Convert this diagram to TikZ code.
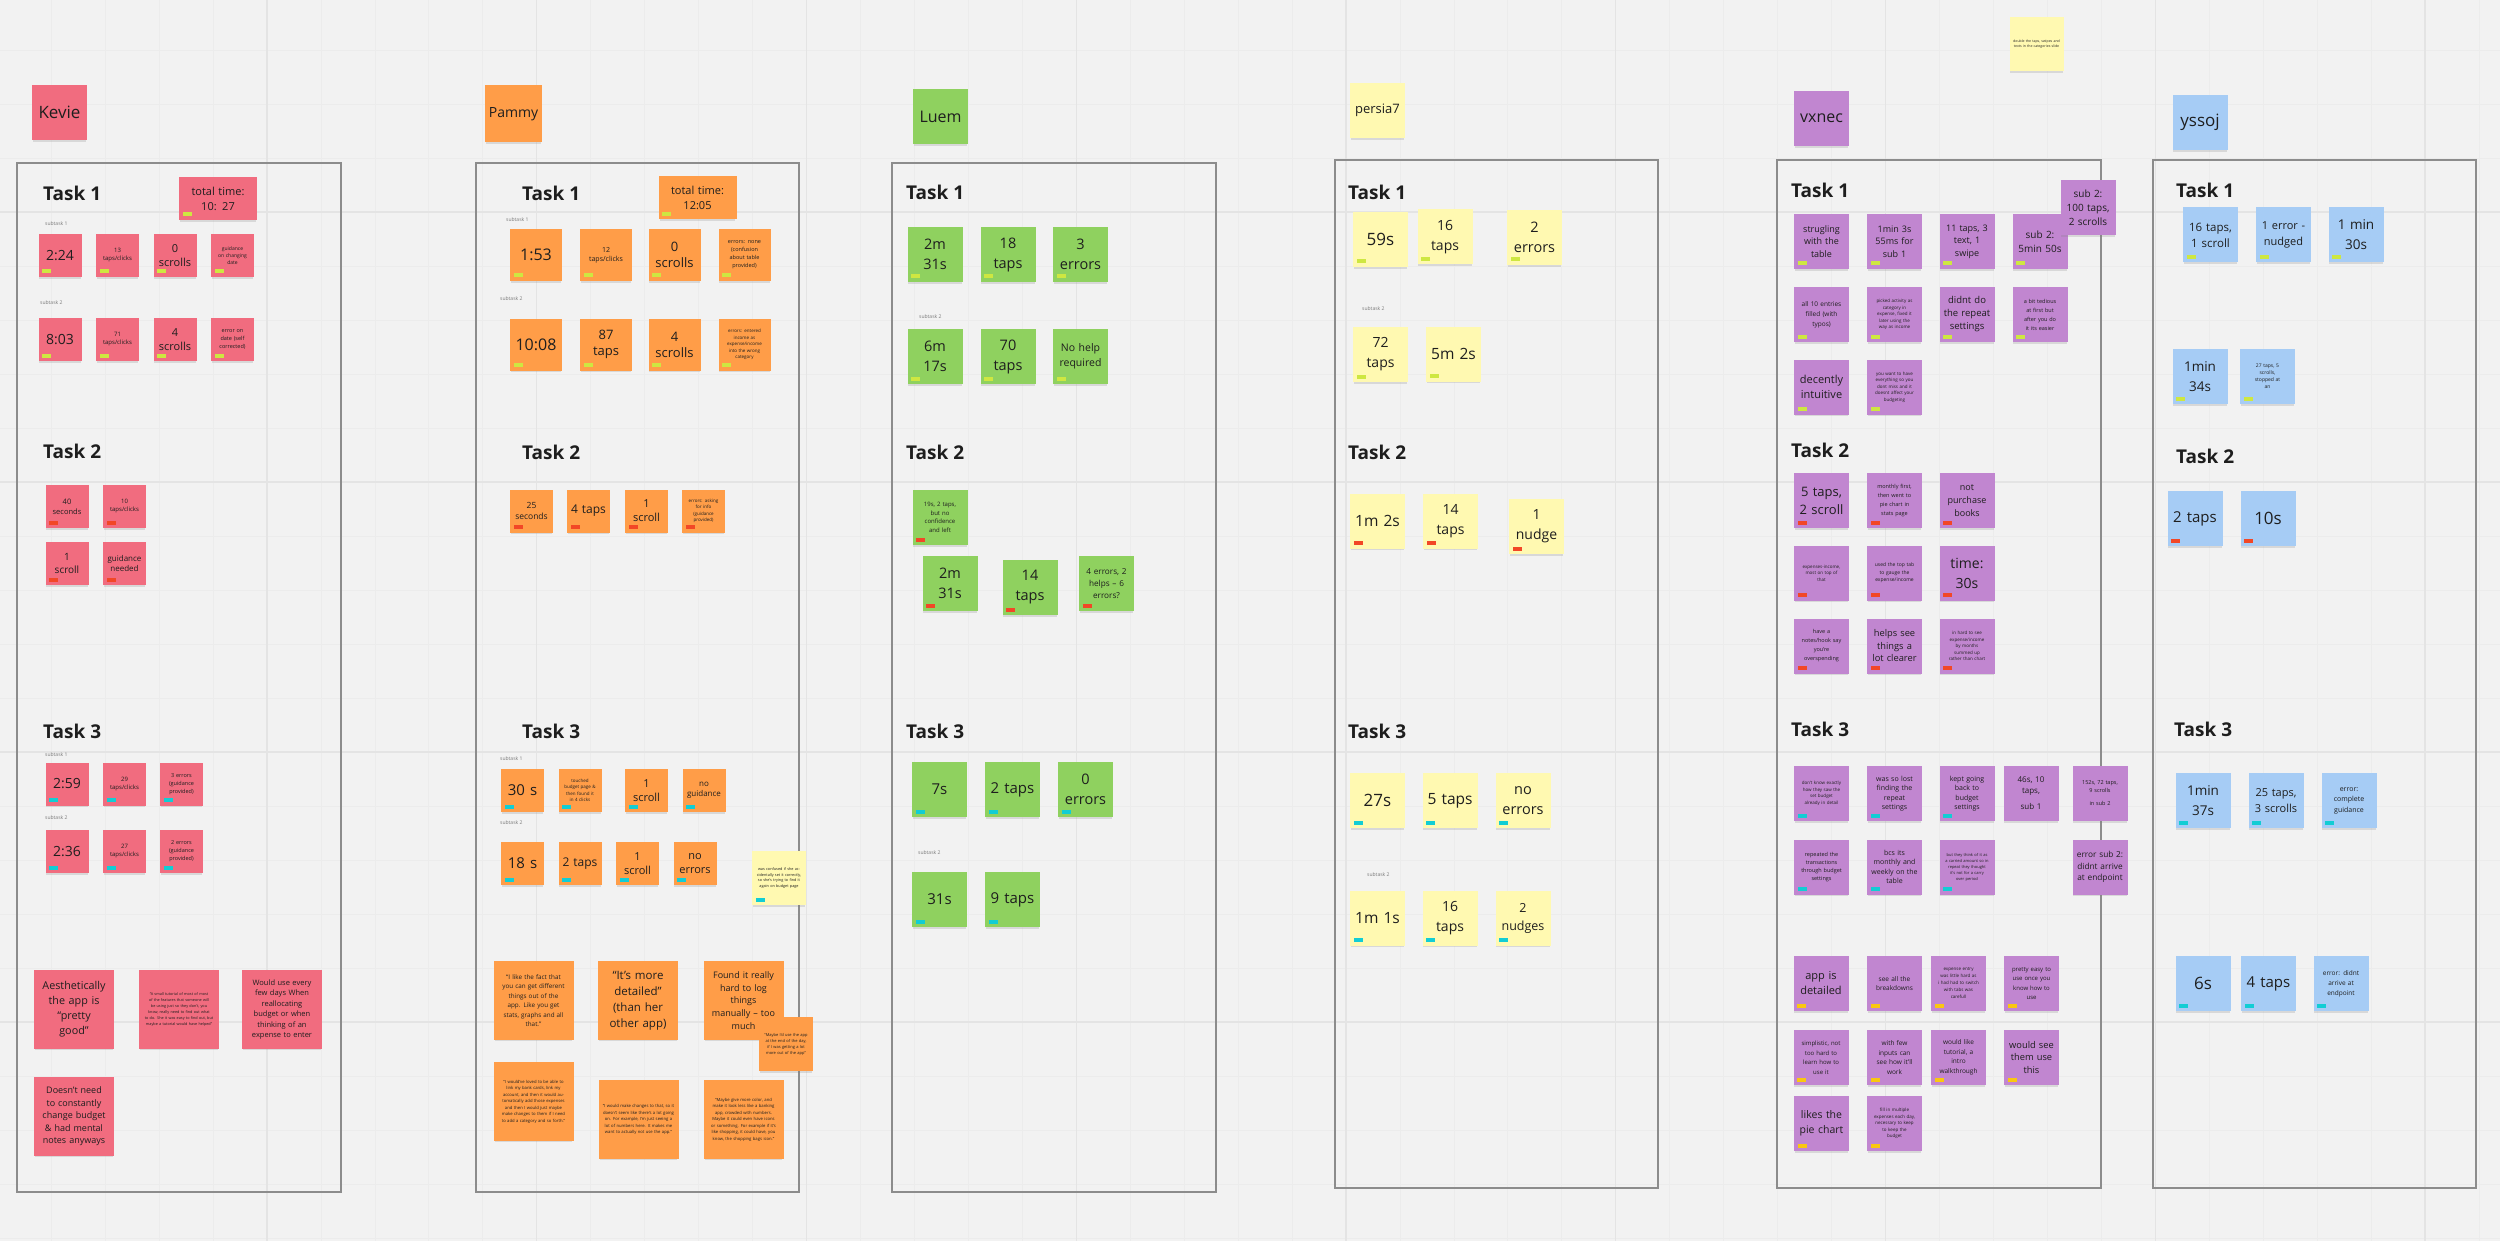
\documentclass[tikz,border=0pt]{standalone}
\usepackage{fontspec}
\setmainfont{Open Sans}
\usepackage{tikz}
\usetikzlibrary{shadows}
\definecolor{bggray}{RGB}{242,242,242}
\definecolor{gridmin}{RGB}{236,236,236}
\definecolor{gridmaj}{RGB}{228,228,228}
\definecolor{framegray}{RGB}{140,140,140}
\definecolor{ink}{RGB}{30,30,30}
\definecolor{subgray}{RGB}{120,120,120}
\definecolor{kvred}{RGB}{241,108,127}
\definecolor{pmorange}{RGB}{255,157,72}
\definecolor{lmgreen}{RGB}{143,209,95}
\definecolor{psyellow}{RGB}{255,249,177}
\definecolor{vxpurple}{RGB}{193,134,208}
\definecolor{ysblue}{RGB}{166,204,245}
\definecolor{tglime}{RGB}{206,231,65}
\definecolor{tgred}{RGB}{242,71,38}
\definecolor{tgcyan}{RGB}{18,205,212}
\definecolor{tggold}{RGB}{250,199,16}
\newcommand\fsz[2]{\fontsize{#1}{#2}\selectfont}
\tikzset{
  frm/.style={draw=framegray, line width=1.6pt},
  task/.style={anchor=west, inner sep=0pt, font=\fsz{19}{22}\bfseries, text=ink},
  sublbl/.style={anchor=west, inner sep=0pt, font=\fsz{5}{6}, text=subgray},
  note/.style={rectangle, inner sep=0pt, align=center, text=ink,
    drop shadow={shadow xshift=0pt, shadow yshift=-2.5pt, shadow scale=0.97, opacity=0.22}},
  n43/.style={note, minimum width=43pt, minimum height=43pt, text width=37pt},
  n52/.style={note, minimum width=52pt, minimum height=52pt, text width=46pt},
  n55/.style={note, minimum width=55pt, minimum height=55pt, text width=49pt},
  n80/.style={note, minimum width=80pt, minimum height=79pt, text width=72pt},
  ntot/.style={note, minimum width=78pt, minimum height=43pt, text width=70pt},
  tg/.style={path picture={\fill[#1] ([xshift=3.5pt,yshift=3.5pt]path picture bounding box.south west) rectangle ++(9pt,4pt);}}
}

\begin{document}
\begin{tikzpicture}[x=1pt, y=-1pt]
  % board and grid
  \useasboundingbox (0,0) rectangle (2500,1241);
  \fill[bggray] (0,0) rectangle (2500,1241);
  \foreach \i in {0,...,47}{
    \pgfmathsetmacro\gx{-2.75+53.95*\i}
    \draw[gridmin, line width=0.8pt] (\gx,0) -- (\gx,1241);
  }
  \foreach \j in {0,...,23}{
    \pgfmathsetmacro\gy{-4+54*\j}
    \draw[gridmin, line width=0.8pt] (0,\gy) -- (2500,\gy);
  }
  \foreach \i in {0,...,9}{
    \pgfmathsetmacro\gx{-2.75+269.75*\i}
    \draw[gridmaj, line width=1.2pt] (\gx,0) -- (\gx,1241);
  }
  \foreach \gy in {212,482,752,1022}
    \draw[gridmaj, line width=1.2pt] (0,\gy) -- (2500,\gy);

  % ---------------- Kevie ----------------
  \node[n55, fill=kvred, font=\fsz{17}{20}] (kvname) at (59.5,112.5) {Kevie};
  \draw[frm] (17,163) rectangle (341,1192);
  \node[task] (kvT1) at (43,193) {Task 1};
  \node[ntot, fill=kvred, tg=tglime, font=\fsz{11}{15}] (kvtot) at (218,198.5) {total time:\\10: 27};
  \node[sublbl] (kvs11) at (45,224) {subtask 1};
  \node[n43, fill=kvred, tg=tglime, font=\fsz{14}{16}] (kva1) at (60,255.5) {2:24};
  \node[n43, fill=kvred, tg=tglime, font=\fsz{6}{8}] (kva2) at (117.5,255.5) {13\\taps/clicks};
  \node[n43, fill=kvred, tg=tglime, font=\fsz{11}{14}] (kva3) at (175,255.5) {0\\scrolls};
  \node[n43, fill=kvred, tg=tglime, font=\fsz{5}{7}] (kva4) at (232.5,255.5) {guidance\\on changing\\date};
  \node[sublbl] (kvs12) at (40,303) {subtask 2};
  \node[n43, fill=kvred, tg=tglime, font=\fsz{14}{16}] (kvb1) at (60,339.5) {8:03};
  \node[n43, fill=kvred, tg=tglime, font=\fsz{6}{8}] (kvb2) at (117.5,339.5) {71\\taps/clicks};
  \node[n43, fill=kvred, tg=tglime, font=\fsz{11}{14}] (kvb3) at (175,339.5) {4\\scrolls};
  \node[n43, fill=kvred, tg=tglime, font=\fsz{5.5}{8}] (kvb4) at (232.5,339.5) {error on\\date (self\\corrected)};
  \node[task] (kvT2) at (43,451) {Task 2};
  \node[n43, fill=kvred, tg=tgred, font=\fsz{7.5}{10}] (kvc1) at (67,506.5) {40\\seconds};
  \node[n43, fill=kvred, tg=tgred, font=\fsz{6}{8}] (kvc2) at (124.5,506.5) {10\\taps/clicks};
  \node[n43, fill=kvred, tg=tgred, font=\fsz{10}{13}] (kvc3) at (67,563.5) {1\\scroll};
  \node[n43, fill=kvred, tg=tgred, font=\fsz{8}{10}] (kvc4) at (124.5,563.5) {guidance\\needed};
  \node[task] (kvT3) at (43,731) {Task 3};
  \node[sublbl] (kvs31) at (45,755) {subtask 1};
  \node[n43, fill=kvred, tg=tgcyan, font=\fsz{14}{16}] (kvd1) at (67,784) {2:59};
  \node[n43, fill=kvred, tg=tgcyan, font=\fsz{6}{8}] (kvd2) at (124.5,784) {29\\taps/clicks};
  \node[n43, fill=kvred, tg=tgcyan, font=\fsz{5.5}{8}] (kvd3) at (181.5,784) {3 errors\\(guidance\\provided)};
  \node[sublbl] (kvs32) at (45,818) {subtask 2};
  \node[n43, fill=kvred, tg=tgcyan, font=\fsz{14}{16}] (kve1) at (67,851.5) {2:36};
  \node[n43, fill=kvred, tg=tgcyan, font=\fsz{6}{8}] (kve2) at (124.5,851.5) {27\\taps/clicks};
  \node[n43, fill=kvred, tg=tgcyan, font=\fsz{5.5}{8}] (kve3) at (181.5,851.5) {2 errors\\(guidance\\provided)};
  \node[n80, fill=kvred, font=\fsz{10.8}{15}] (kvq1) at (74,1009.5) {Aesthetically\\the app is\\“pretty\\good”};
  \node[n80, fill=kvred, font=\fsz{3.8}{6}] (kvq2) at (179,1009.5) {“A small tutorial of most of most of the features that someone will be using just so they don't, you know, really need to find out what to do. She it was easy to find out, but maybe a tutorial would have helped”};
  \node[n80, fill=kvred, font=\fsz{7.5}{10.5}] (kvq3) at (282,1009.5) {Would use every\\few days When\\reallocating\\budget or when\\thinking of an\\expense to enter};
  \node[n80, fill=kvred, font=\fsz{9}{12.5}] (kvq4) at (74,1116.5) {Doesn't need\\to constantly\\change budget\\\& had mental\\notes anyways};

  % ---------------- Pammy ----------------
  \node[note, minimum width=57pt, minimum height=57pt, fill=pmorange, font=\fsz{14}{17}] (pmname) at (513.5,114) {Pammy};
  \draw[frm] (476,163) rectangle (799,1192);
  \node[task] (pmT1) at (522,193) {Task 1};
  \node[ntot, fill=pmorange, tg=tglime, font=\fsz{11}{15}] (pmtot) at (697.5,198) {total time:\\12:05};
  \node[sublbl] (pms11) at (506,220) {subtask 1};
  \node[n52, fill=pmorange, tg=tglime, font=\fsz{16}{18}] (pma1) at (536,255) {1:53};
  \node[n52, fill=pmorange, tg=tglime, font=\fsz{7}{9}] (pma2) at (606,255) {12\\taps/clicks};
  \node[n52, fill=pmorange, tg=tglime, font=\fsz{13}{16}] (pma3) at (674.5,255) {0\\scrolls};
  \node[n52, fill=pmorange, tg=tglime, font=\fsz{5.5}{8}] (pma4) at (744.5,255) {errors: none\\(confusion\\about table\\provided)};
  \node[sublbl] (pms12) at (500,299) {subtask 2};
  \node[n52, fill=pmorange, tg=tglime, font=\fsz{16}{18}] (pmb1) at (536,344.5) {10:08};
  \node[n52, fill=pmorange, tg=tglime, font=\fsz{13}{16}] (pmb2) at (606,344.5) {87\\taps};
  \node[n52, fill=pmorange, tg=tglime, font=\fsz{13}{16}] (pmb3) at (674.5,344.5) {4\\scrolls};
  \node[n52, fill=pmorange, tg=tglime, font=\fsz{4.5}{6.5}] (pmb4) at (744.5,344.5) {errors: entered\\income as\\expense/income\\into the wrong\\category};
  \node[task] (pmT2) at (522,452) {Task 2};
  \node[n43, fill=pmorange, tg=tgred, font=\fsz{8.5}{11}] (pmc1) at (531.5,511) {25\\seconds};
  \node[n43, fill=pmorange, tg=tgred, font=\fsz{12}{14}] (pmc2) at (588.5,511) {4 taps};
  \node[n43, fill=pmorange, tg=tgred, font=\fsz{11}{14}] (pmc3) at (646.5,511) {1\\scroll};
  \node[n43, fill=pmorange, tg=tgred, font=\fsz{4.5}{6.5}] (pmc4) at (703.5,511) {errors: asking\\for info\\(guidance\\provided)};
  \node[task] (pmT3) at (522,731) {Task 3};
  \node[sublbl] (pms31) at (500,759) {subtask 1};
  \node[n43, fill=pmorange, tg=tgcyan, font=\fsz{15}{17}] (pmd1) at (522.5,790.5) {30 s};
  \node[n43, fill=pmorange, tg=tgcyan, font=\fsz{4.5}{6.5}] (pmd2) at (580,790.5) {touched\\budget page \&\\then found it\\in 4 clicks};
  \node[n43, fill=pmorange, tg=tgcyan, font=\fsz{11}{14}] (pmd3) at (646.5,790.5) {1\\scroll};
  \node[n43, fill=pmorange, tg=tgcyan, font=\fsz{8}{10}] (pmd4) at (704,790.5) {no\\guidance};
  \node[sublbl] (pms32) at (500,823) {subtask 2};
  \node[n43, fill=pmorange, tg=tgcyan, font=\fsz{15}{17}] (pme1) at (522.5,863.5) {18 s};
  \node[n43, fill=pmorange, tg=tgcyan, font=\fsz{12}{14}] (pme2) at (580,863.5) {2 taps};
  \node[n43, fill=pmorange, tg=tgcyan, font=\fsz{11}{14}] (pme3) at (637.5,863.5) {1\\scroll};
  \node[n43, fill=pmorange, tg=tgcyan, font=\fsz{11}{14}] (pme4) at (695,863.5) {no\\errors};
  \node[note, minimum width=54pt, minimum height=54pt, text width=48pt, fill=psyellow, tg=tgcyan, font=\fsz{3.8}{5.5}] (pmyel) at (779,878) {was confused if she accidentally set it correctly, so she's trying to find it again on budget page};
  \node[n80, fill=pmorange, font=\fsz{6.3}{9.5}] (pmq1) at (533.5,1000.5) {“I like the fact that\\you can get different\\things out of the\\app. Like you get\\stats, graphs and all\\that.”};
  \node[n80, fill=pmorange, font=\fsz{11.5}{16}] (pmq2) at (638,1000.5) {“It's more\\detailed”\\(than her\\other app)};
  \node[n80, fill=pmorange, font=\fsz{9}{12.7}] (pmq3) at (743.5,1000.5) {Found it really\\hard to log\\things\\manually -- too\\much};
  \node[note, minimum width=54pt, minimum height=54pt, text width=48pt, fill=pmorange, font=\fsz{4}{6}] (pmq4) at (786,1044) {“Maybe I'd use the app at the end of the day, if I was getting a lot more out of the app”};
  \node[n80, fill=pmorange, font=\fsz{4.2}{6.5}] (pmq5) at (533.5,1101.5) {“I would've loved to be able to link my bank cards, link my account, and then it would automatically add those expenses and then I would just maybe make changes to them if I need to add a category and so forth.”};
  \node[n80, fill=pmorange, font=\fsz{4.2}{6.5}] (pmq6) at (638.5,1119.5) {“I would make changes to that, so it doesn't seem like there's a lot going on. For example, I'm just seeing a lot of numbers here. It makes me want to actually not use the app.”};
  \node[n80, fill=pmorange, font=\fsz{4.2}{6.5}] (pmq7) at (743.5,1119.5) {“Maybe give more color, and make it look less like a banking app, crowded with numbers. Maybe it could even have icons or something. For example if it's like shopping, it could have, you know, the shopping bags icon.”};

  % ---------------- Luem ----------------
  \node[n55, fill=lmgreen, font=\fsz{16}{19}] (lmname) at (940.5,117) {Luem};
  \draw[frm] (892,163) rectangle (1216,1192);
  \node[task] (lmT1) at (906,192) {Task 1};
  \node[n55, fill=lmgreen, tg=tglime, font=\fsz{14.5}{20}] (lma1) at (935,254.5) {2m\\31s};
  \node[n55, fill=lmgreen, tg=tglime, font=\fsz{14.5}{20}] (lma2) at (1008,254.5) {18\\taps};
  \node[n55, fill=lmgreen, tg=tglime, font=\fsz{14.5}{20}] (lma3) at (1080.5,254.5) {3\\errors};
  \node[sublbl] (lms12) at (919,317) {subtask 2};
  \node[n55, fill=lmgreen, tg=tglime, font=\fsz{14.5}{20}] (lmb1) at (935,356.5) {6m\\17s};
  \node[n55, fill=lmgreen, tg=tglime, font=\fsz{14.5}{20}] (lmb2) at (1008,356.5) {70\\taps};
  \node[n55, fill=lmgreen, tg=tglime, font=\fsz{10.5}{15}] (lmb3) at (1080.5,356.5) {No help\\required};
  \node[task] (lmT2) at (906,452) {Task 2};
  \node[n55, fill=lmgreen, tg=tgred, font=\fsz{6}{8.5}] (lmc0) at (940,517.5) {19s, 2 taps,\\but no\\confidence\\and left};
  \node[n55, fill=lmgreen, tg=tgred, font=\fsz{14.5}{20}] (lmc1) at (950,583.5) {2m\\31s};
  \node[n55, fill=lmgreen, tg=tgred, font=\fsz{14.5}{20}] (lmc2) at (1030,587.5) {14\\taps};
  \node[n55, fill=lmgreen, tg=tgred, font=\fsz{8.2}{12}] (lmc3) at (1106.5,583.5) {4 errors, 2\\helps -- 6\\errors?};
  \node[task] (lmT3) at (906,731) {Task 3};
  \node[n55, fill=lmgreen, tg=tgcyan, font=\fsz{15}{18}] (lmd1) at (939.5,789.5) {7s};
  \node[n55, fill=lmgreen, tg=tgcyan, font=\fsz{15}{18}] (lmd2) at (1012.5,789.5) {2 taps};
  \node[n55, fill=lmgreen, tg=tgcyan, font=\fsz{14.5}{20}] (lmd3) at (1085.5,789.5) {0\\errors};
  \node[sublbl] (lms32) at (918,853) {subtask 2};
  \node[n55, fill=lmgreen, tg=tgcyan, font=\fsz{15}{18}] (lme1) at (939.5,899.5) {31s};
  \node[n55, fill=lmgreen, tg=tgcyan, font=\fsz{15}{18}] (lme2) at (1012.5,899.5) {9 taps};

  % ---------------- persia7 ----------------
  \node[n55, fill=psyellow, font=\fsz{13}{16}] (psname) at (1377.5,110.5) {persia7};
  \draw[frm] (1335,160) rectangle (1658,1188);
  \node[task] (psT1) at (1348,192) {Task 1};
  \node[n55, fill=psyellow, tg=tglime, font=\fsz{17}{20}] (psa1) at (1380.5,239.5) {59s};
  \node[n55, fill=psyellow, tg=tglime, font=\fsz{14}{20}] (psa2) at (1445,237) {16\\taps};
  \node[n55, fill=psyellow, tg=tglime, font=\fsz{14.5}{20}] (psa3) at (1534.5,237.5) {2\\errors};
  \node[sublbl] (pss12) at (1362,309) {subtask 2};
  \node[n55, fill=psyellow, tg=tglime, font=\fsz{14}{20}] (psb1) at (1380.5,354.5) {72\\taps};
  \node[n55, fill=psyellow, tg=tglime, font=\fsz{15.5}{18}] (psb2) at (1453.5,354) {5m 2s};
  \node[task] (psT2) at (1348,452) {Task 2};
  \node[n55, fill=psyellow, tg=tgred, font=\fsz{15.5}{18}] (psc1) at (1377.5,521) {1m 2s};
  \node[n55, fill=psyellow, tg=tgred, font=\fsz{14}{20}] (psc2) at (1450.5,521) {14\\taps};
  \node[n55, fill=psyellow, tg=tgred, font=\fsz{14}{20}] (psc3) at (1536.5,526.5) {1\\nudge};
  \node[task] (psT3) at (1348,731) {Task 3};
  \node[n55, fill=psyellow, tg=tgcyan, font=\fsz{17}{20}] (psd1) at (1377.5,800.5) {27s};
  \node[n55, fill=psyellow, tg=tgcyan, font=\fsz{15.5}{18}] (psd2) at (1450,800.5) {5 taps};
  \node[n55, fill=psyellow, tg=tgcyan, font=\fsz{14.5}{20}] (psd3) at (1523,800.5) {no\\errors};
  \node[sublbl] (pss32) at (1367,875) {subtask 2};
  \node[n55, fill=psyellow, tg=tgcyan, font=\fsz{15.5}{18}] (pse1) at (1377.5,918) {1m 1s};
  \node[n55, fill=psyellow, tg=tgcyan, font=\fsz{14}{20}] (pse2) at (1450,918) {16\\taps};
  \node[n55, fill=psyellow, tg=tgcyan, font=\fsz{12.5}{18}] (pse3) at (1523,918) {2\\nudges};

  % loose note at the top
  \node[note, minimum width=54pt, minimum height=54pt, text width=48pt, fill=psyellow, font=\fsz{3.5}{5}] (topnote) at (2036.5,44) {double the taps, swipes and texts in the categories slide};

  % ---------------- vxnec ----------------
  \node[n55, fill=vxpurple, font=\fsz{16}{19}] (vxname) at (1821.5,118.5) {vxnec};
  \draw[frm] (1777,160) rectangle (2101,1188);
  \node[task] (vxT1) at (1791,190) {Task 1};
  \node[n55, fill=vxpurple, tg=tglime, font=\fsz{9}{12.5}] (vxa1) at (1821.5,241.5) {strugling\\with the\\table};
  \node[n55, fill=vxpurple, tg=tglime, font=\fsz{9}{12.5}] (vxa2) at (1894.5,241.5) {1min 3s\\55ms for\\sub 1};
  \node[n55, fill=vxpurple, tg=tglime, font=\fsz{9}{12.5}] (vxa3) at (1967,241.5) {11 taps, 3\\text, 1\\swipe};
  \node[n55, fill=vxpurple, tg=tglime, font=\fsz{10}{14}] (vxa4) at (2040,241.5) {sub 2:\\5min 50s};
  \node[n55, fill=vxpurple, font=\fsz{10}{14}] (vxa5) at (2088,207.5) {sub 2:\\100 taps,\\2 scrolls};
  \node[n55, fill=vxpurple, tg=tglime, font=\fsz{6.5}{10}] (vxb1) at (1821.5,314.5) {all 10 entries\\filled (with\\typos)};
  \node[n55, fill=vxpurple, tg=tglime, font=\fsz{4.5}{6.5}] (vxb2) at (1894.5,314.5) {picked activity as\\category in\\expense, fixed it\\later using the\\way as income};
  \node[n55, fill=vxpurple, tg=tglime, font=\fsz{9.5}{13}] (vxb3) at (1967,314.5) {didnt do\\the repeat\\settings};
  \node[n55, fill=vxpurple, tg=tglime, font=\fsz{5.5}{9}] (vxb4) at (2040,314.5) {a bit tedious\\at first but\\after you do\\it its easier};
  \node[n55, fill=vxpurple, tg=tglime, font=\fsz{11}{15}] (vxc1) at (1821.5,387) {decently\\intuitive};
  \node[n55, fill=vxpurple, tg=tglime, font=\fsz{4.5}{6.5}] (vxc2) at (1894.5,387) {you want to have\\everything so you\\dont miss and it\\doesnt affect your\\budgeting};
  \node[task] (vxT2) at (1791,450) {Task 2};
  \node[n55, fill=vxpurple, tg=tgred, font=\fsz{13}{18}] (vxd1) at (1821.5,500.5) {5 taps,\\2 scroll};
  \node[n55, fill=vxpurple, tg=tgred, font=\fsz{5.5}{9}] (vxd2) at (1894.5,500.5) {monthly first,\\then went to\\pie chart in\\stats page};
  \node[n55, fill=vxpurple, tg=tgred, font=\fsz{9}{13}] (vxd3) at (1967,500.5) {not\\purchase\\books};
  \node[n55, fill=vxpurple, tg=tgred, font=\fsz{4.5}{6.5}] (vxe1) at (1821.5,573) {expenses-income,\\most on top of\\that};
  \node[n55, fill=vxpurple, tg=tgred, font=\fsz{5}{7.5}] (vxe2) at (1894.5,573) {used the top tab\\to gauge the\\expense/income};
  \node[n55, fill=vxpurple, tg=tgred, font=\fsz{14}{20}] (vxe3) at (1967,573) {time:\\30s};
  \node[n55, fill=vxpurple, tg=tgred, font=\fsz{5.5}{9}] (vxf1) at (1821.5,646) {have a\\notes/hook say\\you're\\overspending};
  \node[n55, fill=vxpurple, tg=tgred, font=\fsz{9.3}{12.5}] (vxf2) at (1894.5,646) {helps see\\things a\\lot clearer};
  \node[n55, fill=vxpurple, tg=tgred, font=\fsz{4.5}{6.5}] (vxf3) at (1967,646) {in hard to see\\expense/income\\by months\\summed up\\rather than chart};
  \node[task] (vxT3) at (1791,729) {Task 3};
  \node[n55, fill=vxpurple, tg=tgcyan, font=\fsz{4.5}{6.5}] (vxg1) at (1821.5,793.5) {don't know exactly\\how they saw the\\set budget\\already in detail};
  \node[n55, fill=vxpurple, tg=tgcyan, font=\fsz{7}{9.5}] (vxg2) at (1894.5,793.5) {was so lost\\finding the\\repeat\\settings};
  \node[n55, fill=vxpurple, tg=tgcyan, font=\fsz{7}{9.5}] (vxg3) at (1967,793.5) {kept going\\back to\\budget\\settings};
  \node[n55, fill=vxpurple, font=\fsz{8}{11}] (vxg4) at (2031,793.5) {46s, 10\\taps,\\[5pt]sub 1};
  \node[n55, fill=vxpurple, font=\fsz{5.5}{8}] (vxg5) at (2100,793.5) {152s, 72 taps,\\9 scrolls\\[5pt]in sub 2};
  \node[n55, fill=vxpurple, tg=tgcyan, font=\fsz{5.5}{8}] (vxh1) at (1821.5,867) {repeated the\\transactions\\through budget\\settings};
  \node[n55, fill=vxpurple, tg=tgcyan, font=\fsz{7}{9.5}] (vxh2) at (1894.5,867) {bcs its\\monthly and\\weekly on the\\table};
  \node[n55, fill=vxpurple, tg=tgcyan, font=\fsz{4}{6}] (vxh3) at (1967,867) {but they think of it as\\a carried amount so in\\repeat they thought\\it's not for a carry\\over period};
  \node[n55, fill=vxpurple, font=\fsz{8.3}{11.5}] (vxh4) at (2100,867) {error sub 2:\\didnt arrive\\at endpoint};
  \node[n55, fill=vxpurple, tg=tggold, font=\fsz{11}{15}] (vxi1) at (1821,983.5) {app is\\detailed};
  \node[n55, fill=vxpurple, tg=tggold, font=\fsz{6.5}{9.5}] (vxi2) at (1894.5,983.5) {see all the\\breakdowns};
  \node[n55, fill=vxpurple, tg=tggold, font=\fsz{4.5}{7}] (vxi3) at (1958.5,983.5) {expense entry\\was little hard as\\i had had to switch\\with tabs was\\carefull};
  \node[n55, fill=vxpurple, tg=tggold, font=\fsz{6}{9.5}] (vxi4) at (2031.5,983.5) {pretty easy to\\use once you\\know how to\\use};
  \node[n55, fill=vxpurple, tg=tggold, font=\fsz{6}{9.5}] (vxj1) at (1821,1057.5) {simplistic, not\\too hard to\\learn how to\\use it};
  \node[n55, fill=vxpurple, tg=tggold, font=\fsz{6.5}{9.5}] (vxj2) at (1894.5,1057.5) {with few\\inputs can\\see how it'll\\work};
  \node[n55, fill=vxpurple, tg=tggold, font=\fsz{6.5}{9.5}] (vxj3) at (1958.5,1057.5) {would like\\tutorial, a\\intro\\walkthrough};
  \node[n55, fill=vxpurple, tg=tggold, font=\fsz{9.3}{12.5}] (vxj4) at (2031.5,1057.5) {would see\\them use\\this};
  \node[n55, fill=vxpurple, tg=tggold, font=\fsz{10.5}{14.5}] (vxk1) at (1821.5,1123.5) {likes the\\pie chart};
  \node[n55, fill=vxpurple, tg=tggold, font=\fsz{4.5}{6.5}] (vxk2) at (1894.5,1123.5) {fill in multiple\\expenses each day,\\necessary to keep\\to keep the\\budget};

  % ---------------- yssoj ----------------
  \node[n55, fill=ysblue, font=\fsz{17}{20}] (ysname) at (2200,122.5) {yssoj};
  \draw[frm] (2153,160) rectangle (2476,1188);
  \node[task] (ysT1) at (2176,190) {Task 1};
  \node[n55, fill=ysblue, tg=tglime, font=\fsz{11.5}{16}] (ysa1) at (2210.5,235) {16 taps,\\1 scroll};
  \node[n55, fill=ysblue, tg=tglime, font=\fsz{11}{16}] (ysa2) at (2283.5,235) {1 error -\\nudged};
  \node[n55, fill=ysblue, tg=tglime, font=\fsz{13.5}{20}] (ysa3) at (2356,235) {1 min\\30s};
  \node[n55, fill=ysblue, tg=tglime, font=\fsz{13.5}{20}] (ysb1) at (2200,376.5) {1min\\34s};
  \node[n55, fill=ysblue, tg=tglime, font=\fsz{5}{7}] (ysb2) at (2267.5,376.5) {27 taps, 5\\scrolls,\\stopped at\\an};
  \node[task] (ysT2) at (2176,456) {Task 2};
  \node[n55, fill=ysblue, tg=tgred, font=\fsz{15}{18}] (ysc1) at (2195,518.5) {2 taps};
  \node[n55, fill=ysblue, tg=tgred, font=\fsz{17}{20}] (ysc2) at (2268,518.5) {10s};
  \node[task] (ysT3) at (2174,729) {Task 3};
  \node[n55, fill=ysblue, tg=tgcyan, font=\fsz{13.5}{20}] (ysd1) at (2203,800.5) {1min\\37s};
  \node[n55, fill=ysblue, tg=tgcyan, font=\fsz{11}{16}] (ysd2) at (2276,800.5) {25 taps,\\3 scrolls};
  \node[n55, fill=ysblue, tg=tgcyan, font=\fsz{7}{10.5}] (ysd3) at (2349,800.5) {error:\\complete\\guidance};
  \node[n55, fill=ysblue, tg=tgcyan, font=\fsz{17}{20}] (yse1) at (2203,983.5) {6s};
  \node[n55, fill=ysblue, tg=tgcyan, font=\fsz{15}{18}] (yse2) at (2268.5,983.5) {4 taps};
  \node[n55, fill=ysblue, tg=tgcyan, font=\fsz{6.5}{10}] (yse3) at (2341,983.5) {error: didnt\\arrive at\\endpoint};
\end{tikzpicture}
\end{document}
